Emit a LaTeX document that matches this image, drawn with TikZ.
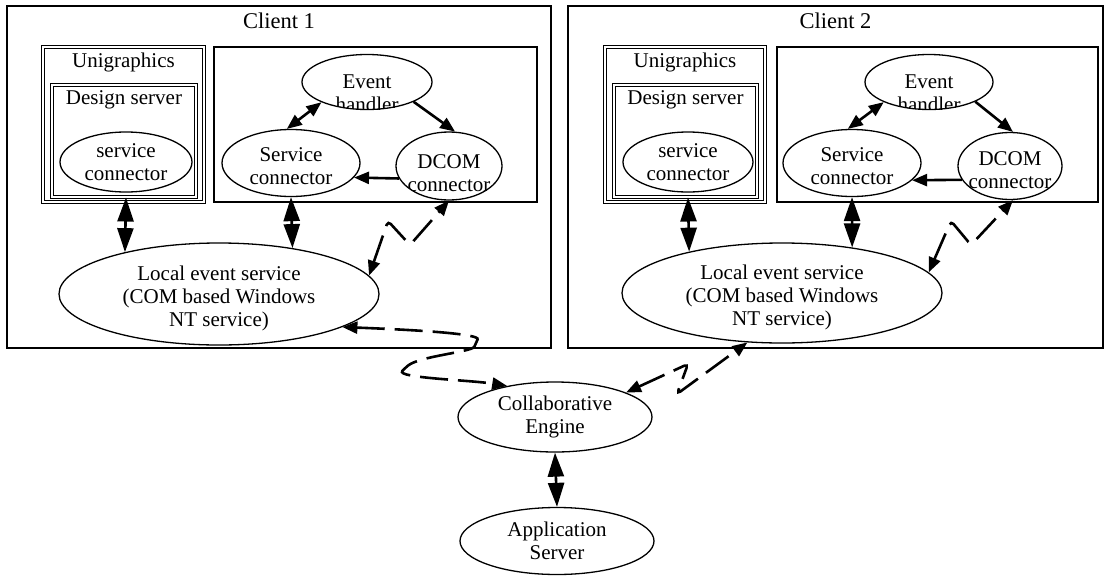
\documentclass[tikz,border=0pt]{standalone}
\usepackage{fontspec}
\setmainfont{Liberation Serif}
\usetikzlibrary{positioning}
\usetikzlibrary{shapes.geometric}
\usetikzlibrary{arrows.meta}
\usetikzlibrary{fit}
\tikzset{
	every node/.style = {font=\fontsize{21}{23}\selectfont, align=center},
	clientbox/.style = {draw, line width=2pt, inner sep=0pt},
	clienttitle/.style = {font=\fontsize{22.5}{25}\selectfont},
	dblbox/.style = {draw, double, line width=1pt, double distance=2pt, inner sep=0pt},
	procbox/.style = {draw, line width=1.6pt, inner sep=0pt},
	proc/.style = {ellipse, draw, line width=1.3pt, inner sep=0pt},
	cliptext/.style = {draw=none, shape=rectangle, minimum width=0pt, minimum height=0pt, inner sep=0pt},
	flow/.style = {line width=2.6pt, -{Triangle[length=15pt, width=12pt]}},
	twoway/.style = {line width=2.6pt, {Triangle[length=15pt, width=12pt]}-{Triangle[length=15pt, width=12pt]}},
	bigtwoway/.style = {line width=2.6pt, {Triangle[length=24pt, width=16pt]}-{Triangle[length=24pt, width=16pt]}},
	remote/.style = {twoway, dash pattern=on 28pt off 10pt, rounded corners=4pt}
}
\begin{document}
\begin{tikzpicture}[x=1pt, y=-1pt]
		\useasboundingbox (0,0) rectangle (1106,576);
		% client 1
		\node[clientbox, fit={(7,6) (551,348)}] (client1) {};
		\node[clienttitle, below=4pt] (client1lbl) at (client1.north) {Client 1};
		\node[dblbox, fit={(43,47) (204,202)}] (ug1) {};
		\node[below=2.5pt] (ug1lbl) at (ug1.north) {Unigraphics};
		\node[dblbox, fit={(52,85) (196,197)}] (ds1) {};
		\node[below=2.4pt] (ds1lbl) at (ds1.north) {Design server};
		\node[proc, minimum width=132pt, minimum height=60pt] (svc1) at (126,162) {service\\connector};
		\node[procbox, fit={(214,47) (537,202)}] (ev1) {};
		\node[proc, minimum width=130pt, minimum height=55pt,
		      path picture={\node[cliptext] (evt1lbl) at ([yshift=-11pt]path picture bounding box.center) {Event\\handler};}] (evt1) at (367,82) {};
		\node[proc, minimum width=106pt, minimum height=68pt,
		      path picture={\node[cliptext] (dc1lbl) at ([yshift=-7.5pt]path picture bounding box.center) {DCOM\\connector};}] (dc1) at (449,166) {};
		\node[proc, minimum width=138pt, minimum height=67pt,
		      label={[name=sc1lbl, yshift=-3pt]center:{Service\\connector}}] (sc1) at (291,163) {};
		\node[proc, minimum width=320pt, minimum height=102pt,
		      label={[name=les1lbl, yshift=-4pt]center:{Local event service\\(COM based Windows\\NT service)}}] (les1) at (219,294) {};
		% client 2
		\node[clientbox, fit={(568,6) (1103,348)}] (client2) {};
		\node[clienttitle, below=4pt] (client2lbl) at (client2.north) {Client 2};
		\node[dblbox, fit={(605,47) (765,202)}] (ug2) {};
		\node[below=2.5pt] (ug2lbl) at (ug2.north) {Unigraphics};
		\node[dblbox, fit={(614,85) (757,197)}] (ds2) {};
		\node[below=2.4pt] (ds2lbl) at (ds2.north) {Design server};
		\node[proc, minimum width=130pt, minimum height=60pt] (svc2) at (688,162) {service\\connector};
		\node[procbox, fit={(777,47) (1098,202)}] (ev2) {};
		\node[proc, minimum width=128pt, minimum height=55pt,
		      path picture={\node[cliptext] (evt2lbl) at ([yshift=-11pt]path picture bounding box.center) {Event\\handler};}] (evt2) at (929,82) {};
		\node[proc, minimum width=104pt, minimum height=67pt,
		      label={[name=dc2lbl, yshift=-4pt]center:{DCOM\\connector}}] (dc2) at (1010,166) {};
		\node[proc, minimum width=138pt, minimum height=67pt,
		      label={[name=sc2lbl, yshift=-3pt]center:{Service\\connector}}] (sc2) at (852,163) {};
		\node[proc, minimum width=320pt, minimum height=100pt,
		      label={[name=les2lbl, yshift=-4pt]center:{Local event service\\(COM based Windows\\NT service)}}] (les2) at (782,293) {};
		% server side
		\node[proc, minimum width=194pt, minimum height=70pt] (ce) at (555,417) {Collaborative\\Engine};
		\node[proc, minimum width=194pt, minimum height=67pt] (as) at (557,541) {Application\\Server};
		% links inside client 1
		\draw[bigtwoway] (svc1.south |- ds1.south) -- (les1.156);
		\draw[bigtwoway] (sc1.south) -- (les1.32);
		\draw[twoway] (evt1.204) -- (sc1.97);
		\draw[flow] (evt1.-23) -- (dc1.80);
		\draw[flow] (dc1.194) -- (sc1.-13);
		\draw[remote] (les1.7) -- (388,221) -- (410,245) -- (dc1.south);
		% links inside client 2
		\draw[bigtwoway] (svc2.south |- ds2.south) -- (les2.156);
		\draw[bigtwoway] (sc2.south) -- (les2.33);
		\draw[twoway] (evt2.204) -- (sc2.97);
		\draw[flow] (evt2.-23) -- (dc2.85);
		\draw[flow] (dc2.196) -- (sc2.-16);
		\draw[remote] (les2.8) -- (951,221) -- (971,245) -- (dc2.-85);
		% links to the engine
		\draw[bigtwoway] (ce.south) -- (as.north);
		\draw[remote] (ce.19) -- (688,364) -- (677,394) -- (les2.-125);
		\draw[remote] (les1.-15) .. controls (420,330) and (480,334) .. (476,343)
		      .. controls (472,352) and (420,356) .. (405,368)
		      .. controls (396,378) and (470,380) .. (ce.147);
	\end{tikzpicture}
\end{document}
